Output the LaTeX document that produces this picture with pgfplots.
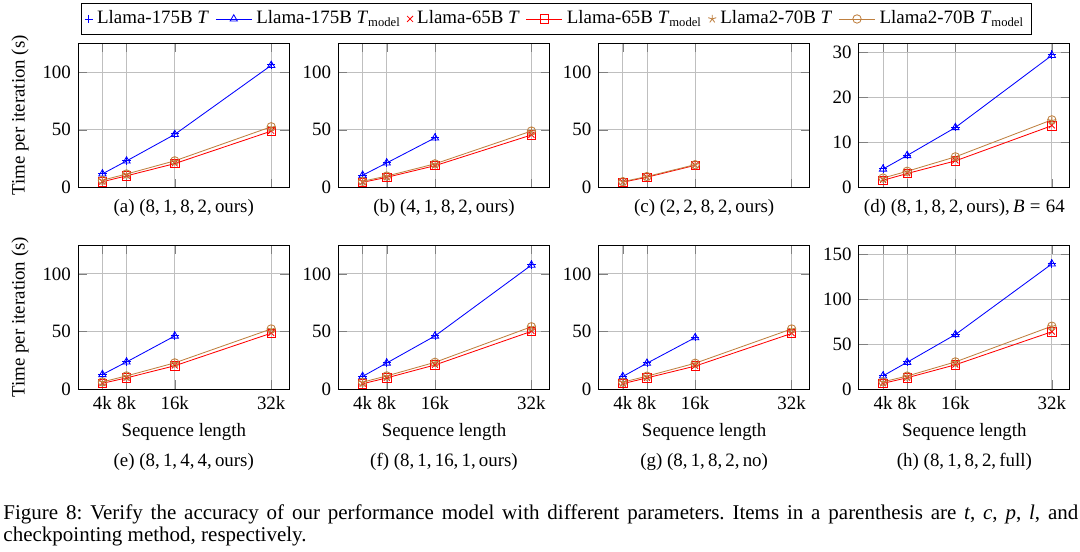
\documentclass[border=0pt]{standalone}
\usepackage{fontspec}
\setmainfont{Liberation Serif}
\usepackage{pgfplots}
\pgfplotsset{compat=1.18}
\frenchspacing
\newcommand{\ninept}{\fontsize{9}{10.8}\selectfont}
\pgfplotsset{
  panel/.style={
    scale only axis, width=100.44pt, height=68.69pt,
    anchor=south west,
    xmin=0, xmax=35, ymin=0, ymax=125,
    xtick={4,8,16,32}, ytick={0,50,100},
    grid=major,
    /pgf/number format/assume math mode=true,
    tick label style={font=\ninept},
    label style={font=\ninept},
    legend style={font=\ninept},
  },
  toprow/.style={xticklabels={}},
  botrow/.style={xticklabels={4k,8k,16k,32k}, xlabel={Sequence length},
    xlabel style={at={(axis description cs:0.5,-0.296)},anchor=center}},
  ylab/.style={ylabel={Time per iteration (s)},
    ylabel style={at={(axis description cs:-0.276,0.5)},anchor=center}},
  sA/.style={blue, only marks, mark=+},
  sB/.style={blue, mark=triangle},
  sC/.style={red, only marks, mark=x},
  sD/.style={red, mark=square},
  sE/.style={brown, only marks, mark=star},
  sF/.style={brown, mark=o},
}
\begin{document}
\begin{tikzpicture}
\path[use as bounding box] (0pt,0pt) rectangle (514.08pt,-262.75pt);

% (a)
\begin{axis}[panel, toprow, ylab, at={(37.27pt,-89.25pt)}, name=a,
  legend columns=6,
  legend style={at={(2.266,1.168)}, anchor=center, inner sep=1.5pt,
    /tikz/every even column/.append style={column sep=1pt}},
  ]
\addplot[sA] coordinates {(4,12.3)(8,23.1)(16,46.6)(32,106.3)};
\addplot[sB] coordinates {(4,11.8)(8,23.0)(16,46.0)(32,105.8)};
\addplot[sC] coordinates {(4,5.1)(8,10.3)(16,20.9)(32,49.1)};
\addplot[sD] coordinates {(4,5.0)(8,10.1)(16,20.7)(32,48.8)};
\addplot[sE] coordinates {(4,6.0)(8,11.3)(16,22.6)(32,52.0)};
\addplot[sF] coordinates {(4,6.3)(8,11.7)(16,23.1)(32,52.6)};
\legend{Llama-175B \textit{T}, Llama-175B \textit{T}\textsubscript{model},
  Llama-65B \textit{T}, Llama-65B \textit{T}\textsubscript{model},
  Llama2-70B \textit{T}, Llama2-70B \textit{T}\textsubscript{model}}
\end{axis}
\node[font=\ninept] at ([yshift=-9.76pt]a.south) {(a) (8,\,1,\,8,\,2,\,ours)};

% (b)
\begin{axis}[panel, toprow, at={(161.13pt,-89.25pt)}, name=b]
\addplot[sA] coordinates {(4,10.9)(8,21.7)(16,43.5)};
\addplot[sB] coordinates {(4,10.6)(8,21.3)(16,43.0)};
\addplot[sC] coordinates {(4,4.6)(8,8.9)(16,19.1)(32,45.7)};
\addplot[sD] coordinates {(4,4.5)(8,8.8)(16,18.9)(32,45.5)};
\addplot[sE] coordinates {(4,5.2)(8,9.7)(16,20.2)(32,48.6)};
\addplot[sF] coordinates {(4,5.4)(8,9.9)(16,20.5)(32,48.9)};
\end{axis}
\node[font=\ninept] at ([yshift=-9.76pt]b.south) {(b) (4,\,1,\,8,\,2,\,ours)};

% (c)
\begin{axis}[panel, toprow, at={(284.98pt,-89.25pt)}, name=c]
\addplot[sC] coordinates {(4,4.7)(8,9.0)(16,19.3)};
\addplot[sD] coordinates {(4,4.6)(8,8.9)(16,19.2)};
\addplot[sE] coordinates {(4,5.0)(8,9.4)(16,19.7)};
\addplot[sF] coordinates {(4,5.1)(8,9.5)(16,19.8)};
\end{axis}
\node[font=\ninept] at ([yshift=-9.76pt]c.south) {(c) (2,\,2,\,8,\,2,\,ours)};

% (d)
\begin{axis}[panel, toprow, at={(408.84pt,-89.25pt)}, name=d, ymax=32, ytick={0,10,20,30}]
\addplot[sA] coordinates {(4,4.2)(8,7.2)(16,13.4)(32,29.5)};
\addplot[sB] coordinates {(4,4.1)(8,7.1)(16,13.3)(32,29.3)};
\addplot[sC] coordinates {(4,1.7)(8,3.2)(16,6.0)(32,13.8)};
\addplot[sD] coordinates {(4,1.6)(8,3.1)(16,5.9)(32,13.7)};
\addplot[sE] coordinates {(4,2.0)(8,3.5)(16,6.6)(32,14.8)};
\addplot[sF] coordinates {(4,2.1)(8,3.6)(16,6.8)(32,15.0)};
\end{axis}
\node[font=\ninept] at ([yshift=-9.76pt]d.south) {(d) (8,\,1,\,8,\,2,\,ours),\,\textit{B}\hspace{0.28em}=\hspace{0.28em}64};

% (e)
\begin{axis}[panel, botrow, ylab, at={(37.27pt,-185.31pt)}, name=e]
\addplot[sA] coordinates {(4,13.1)(8,24.0)(16,46.6)};
\addplot[sB] coordinates {(4,12.8)(8,23.7)(16,46.2)};
\addplot[sC] coordinates {(4,5.3)(8,10.0)(16,20.6)(32,48.8)};
\addplot[sD] coordinates {(4,5.2)(8,9.9)(16,20.4)(32,48.6)};
\addplot[sE] coordinates {(4,6.3)(8,11.4)(16,22.6)(32,52.0)};
\addplot[sF] coordinates {(4,6.4)(8,11.6)(16,22.9)(32,52.3)};
\end{axis}
\node[font=\ninept] at ([yshift=-34.6pt]e.south) {(e) (8,\,1,\,4,\,4,\,ours)};

% (f)
\begin{axis}[panel, botrow, at={(161.13pt,-185.31pt)}, name=f]
\addplot[sA] coordinates {(4,11.4)(8,23.1)(16,46.6)(32,108.0)};
\addplot[sB] coordinates {(4,11.2)(8,22.8)(16,46.2)(32,107.6)};
\addplot[sC] coordinates {(4,4.9)(8,10.0)(16,21.3)(32,50.5)};
\addplot[sD] coordinates {(4,4.8)(8,9.9)(16,21.1)(32,50.2)};
\addplot[sE] coordinates {(4,6.0)(8,11.4)(16,23.1)(32,53.9)};
\addplot[sF] coordinates {(4,6.2)(8,11.6)(16,23.4)(32,54.2)};
\end{axis}
\node[font=\ninept] at ([yshift=-34.6pt]f.south) {(f) (8,\,1,\,16,\,1,\,ours)};

% (g)
\begin{axis}[panel, botrow, at={(284.98pt,-185.31pt)}, name=g]
\addplot[sA] coordinates {(4,11.4)(8,22.9)(16,45.1)};
\addplot[sB] coordinates {(4,11.1)(8,22.6)(16,44.8)};
\addplot[sC] coordinates {(4,5.0)(8,10.0)(16,20.3)(32,48.6)};
\addplot[sD] coordinates {(4,4.9)(8,9.9)(16,20.1)(32,48.4)};
\addplot[sE] coordinates {(4,6.0)(8,11.2)(16,22.3)(32,52.0)};
\addplot[sF] coordinates {(4,6.2)(8,11.4)(16,22.6)(32,52.3)};
\end{axis}
\node[font=\ninept] at ([yshift=-34.6pt]g.south) {(g) (8,\,1,\,8,\,2,\,no)};

% (h)
\begin{axis}[panel, botrow, at={(408.84pt,-185.31pt)}, name=h, ymax=160, ytick={0,50,100,150}]
\addplot[sA] coordinates {(4,15.2)(8,30.4)(16,61.1)(32,139.5)};
\addplot[sB] coordinates {(4,14.9)(8,30.0)(16,60.7)(32,139.0)};
\addplot[sC] coordinates {(4,6.7)(8,13.0)(16,27.4)(32,64.0)};
\addplot[sD] coordinates {(4,6.6)(8,12.8)(16,27.2)(32,63.8)};
\addplot[sE] coordinates {(4,8.1)(8,14.4)(16,30.0)(32,69.6)};
\addplot[sF] coordinates {(4,8.3)(8,14.7)(16,30.4)(32,70.0)};
\end{axis}
\node[font=\ninept] at ([yshift=-34.6pt]h.south) {(h) (8,\,1,\,8,\,2,\,full)};

% figure caption
\node[anchor=base west, text width=511.7pt, align=justify, inner sep=0pt,
  font=\fontsize{10}{10.5}\selectfont] at (1.43pt,-247.2pt)
  {Figure 8: Verify the accuracy of our performance model with different parameters. Items in a parenthesis are \textit{t}, \textit{c}, \textit{p}, \textit{l}, and\linebreak checkpointing method, respectively.};
\end{tikzpicture}
\end{document}
